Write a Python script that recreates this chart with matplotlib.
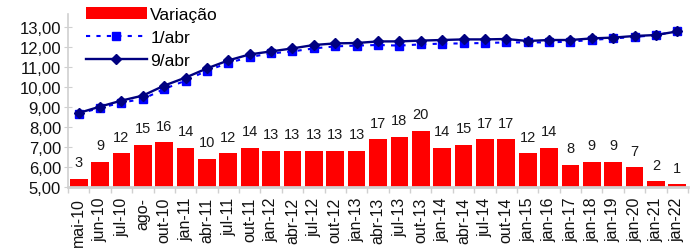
import matplotlib
matplotlib.use("Agg")
import matplotlib.pyplot as plt
from matplotlib.lines import Line2D
from matplotlib.patches import Patch

plt.rcParams['font.family'] = ['Liberation Sans', 'DejaVu Sans']

categories = ["mai-10", "jun-10", "jul-10", "ago-", "out-10", "jan-11", "abr-11", "jul-11",
              "out-11", "jan-12", "abr-12", "jul-12", "out-12", "jan-13", "abr-13", "jul-13",
              "out-13", "jan-14", "abr-14", "jul-14", "out-14", "jan-15", "jan-16", "jan-17",
              "jan-18", "jan-19", "jan-20", "jan-21", "jan-22"]
variacao = [3, 9, 12, 15, 16, 14, 10, 12, 14, 13, 13, 13, 13, 13, 17, 18, 20, 14, 15, 17,
            17, 12, 14, 8, 9, 9, 7, 2, 1]
abr1 = [8.67, 8.95, 9.22, 9.40, 9.90, 10.32, 10.82, 11.20, 11.50, 11.68, 11.78, 11.93, 12.03,
        12.07, 12.10, 12.07, 12.13, 12.17, 12.18, 12.20, 12.23, 12.23, 12.23, 12.27, 12.35,
        12.43, 12.50, 12.60, 12.78]
abr9 = [8.70, 9.02, 9.32, 9.57, 10.07, 10.47, 10.93, 11.33, 11.63, 11.78, 11.93, 12.10, 12.18,
        12.20, 12.28, 12.28, 12.32, 12.35, 12.38, 12.38, 12.40, 12.30, 12.35, 12.35, 12.43,
        12.47, 12.55, 12.60, 12.78]
yticks = [5, 6, 7, 8, 9, 10, 11, 12, 13]

W, H = 698, 251
fig = plt.figure(figsize=(W / 100, H / 100), dpi=100)
left, right, bottom, top = 68, 688, 188, 15
ax = fig.add_axes([left / W, 1 - bottom / H, (right - left) / W, (bottom - top) / H])
ax2 = ax.twinx()

x = list(range(len(categories)))
gray = "#d0d0d0"

# bars (secondary hidden scale)
ax.bar(x, variacao, width=0.83, color="#ff0000", zorder=2)
ax.set_ylim(0, (bottom - top) / 2.8)
ax.set_xlim(-0.5, len(categories) - 0.5)
for xi, v in zip(x, variacao):
    ax.annotate(str(v), (xi, v), xytext=(0, 12), textcoords="offset points",
                ha="center", va="center", fontsize=10.5, color="#1a1a1a")
ax.set_yticks([])

# lines (visible scale, on left)
ax2.plot(x, abr1, color="#0000ff", lw=1.5, ls=(0, (2, 3)), marker="s", markersize=5.5,
         markeredgecolor="#0000ff", zorder=3)
ax2.plot(x, abr9, color="#000080", lw=1.7, marker="D", markersize=5,
         markeredgecolor="#000080", zorder=4)
ax2.set_ylim(5, 5 + (bottom - top) / 20)
ax2.yaxis.tick_left()
ax2.yaxis.set_label_position("left")
ax2.set_yticks(yticks)
ax2.set_yticklabels([f"{t:.2f}".replace(".", ",") for t in yticks], fontsize=12)
ax2.tick_params(axis="y", direction="inout", length=6, color=gray, pad=2, labelcolor="#111111")

for a in (ax, ax2):
    for s in ("top", "right"):
        a.spines[s].set_visible(False)
ax.spines["left"].set_visible(False)
ax2.spines["bottom"].set_visible(False)
ax2.spines["left"].set_color(gray)
ax2.spines["left"].set_linewidth(1.2)
ax.spines["bottom"].set_color(gray)
ax.spines["bottom"].set_linewidth(2)

ax.set_xticks(x)
ax.set_xticklabels(categories, rotation=90, fontsize=11.5, color="#111111")
ax.tick_params(axis="x", which="major", length=0, pad=7)
ax.set_xticks([i - 0.5 for i in range(len(categories) + 1)], minor=True)
ax.tick_params(axis="x", which="minor", length=4, color=gray, width=1)

handles = [Patch(facecolor="#ff0000", edgecolor="none"),
           Line2D([], [], color="#0000ff", lw=1.5, ls=(0, (2, 3)), marker="s", markersize=6),
           Line2D([], [], color="#000080", lw=1.7, marker="D", markersize=5.5)]
fig.legend(handles, ["Variação", "1/abr", "9/abr"], loc="upper left",
           bbox_to_anchor=(86 / W, 1 - 8 / H), frameon=False, fontsize=12.5,
           handlelength=3.5, handletextpad=0.2, labelspacing=0.45, borderpad=0,
           borderaxespad=0)

fig.savefig("out.png", dpi=100)
